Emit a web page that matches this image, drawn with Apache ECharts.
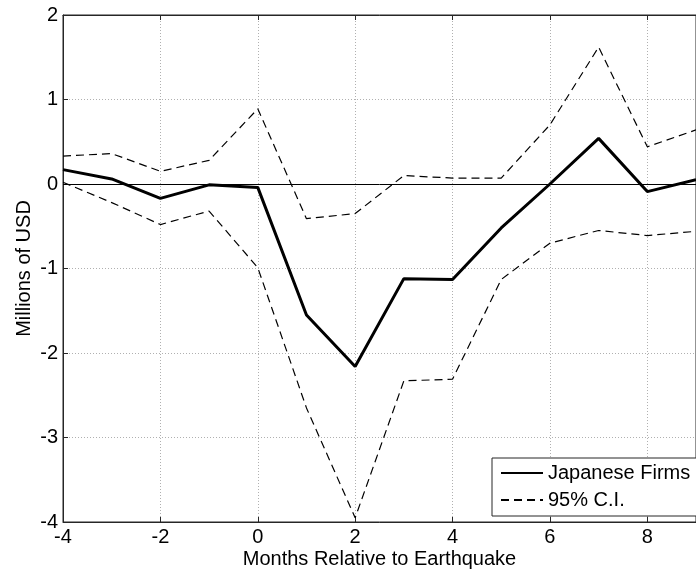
<!DOCTYPE html>
<html>
<head>
<meta charset="utf-8">
<script src="https://cdn.jsdelivr.net/npm/echarts@6/dist/echarts.min.js"></script>
<style>
  html, body { margin: 0; padding: 0; background: #fff; }
  #chart { width: 696px; height: 575px; }
</style>
</head>
<body>
<div id="chart"></div>
<script>
// months relative to the earthquake
const months = [-4, -3, -2, -1, 0, 1, 2, 3, 4, 5, 6, 7, 8, 9]
// point estimate, millions of USD
const firms = [0.17, 0.06, -0.17, -0.01, -0.04, -1.55, -2.16, -1.12, -1.13, -0.52, 0.0, 0.54, -0.09, 0.05]
// 95% confidence band
const upperCI = [0.33, 0.36, 0.15, 0.28, 0.89, -0.41, -0.35, 0.10, 0.07, 0.07, 0.70, 1.62, 0.44, 0.64]
const lowerCI = [0.02, -0.22, -0.48, -0.32, -0.99, -2.65, -3.95, -2.33, -2.31, -1.13, -0.70, -0.55, -0.61, -0.56]

const xTicks = [-4, -2, 0, 2, 4, 6, 8]
const yTicks = [-4, -3, -2, -1, 0, 1, 2]

const pairs = (ys) => months.map((m, i) => [m, ys[i]])

const FONT = '"Liberation Sans", Arial, sans-serif'
const AXIS = '#262626'

const chart = echarts.init(document.getElementById('chart'))

const option = {
  animation: false,
  backgroundColor: '#fff',
  textStyle: { fontFamily: FONT },
  grid: {
    left: 63,
    top: 15,
    width: 643,
    height: 507,
    show: true,
    borderColor: AXIS,
    borderWidth: 1,
    backgroundColor: 'transparent'
  },
  legend: {
    data: ['Japanese Firms', '95% C.I.'],
    orient: 'vertical',
    left: 492,
    top: 458,
    padding: [5, 8, 6, 8],
    itemGap: 7,
    itemWidth: 42,
    itemHeight: 14,
    backgroundColor: '#fff',
    borderColor: AXIS,
    borderWidth: 1,
    borderRadius: 0,
    // hide the marker dot, keep only the line sample
    itemStyle: { opacity: 0 },
    lineStyle: { opacity: 1 },
    textStyle: { fontFamily: FONT, fontSize: 20, color: '#000' }
  },
  xAxis: [
    {
      type: 'value',
      min: xTicks[0],
      max: 9,
      interval: 2,
      name: 'Months Relative to Earthquake',
      nameLocation: 'middle',
      nameGap: 27,
      nameMoveOverlap: false,
      nameTextStyle: { fontFamily: FONT, fontSize: 20, color: '#000' },
      axisLine: { onZero: false, lineStyle: { color: AXIS, width: 1 } },
      axisTick: { inside: true, length: 5, lineStyle: { color: AXIS } },
      axisLabel: {
        fontFamily: FONT, fontSize: 20, color: '#000', margin: 5,
        showMaxLabel: false
      },
      splitLine: { show: true, lineStyle: { type: [1, 2], color: '#b0b0b0', width: 1 } }
    },
    {
      type: 'value',
      position: 'top',
      min: xTicks[0],
      max: 9,
      interval: 2,
      axisLine: { onZero: false, lineStyle: { color: AXIS, width: 1 } },
      axisTick: { inside: true, length: 5, lineStyle: { color: AXIS } },
      axisLabel: { show: false },
      splitLine: { show: false }
    }
  ],
  yAxis: {
    type: 'value',
    min: yTicks[0],
    max: yTicks[yTicks.length - 1],
    interval: 1,
    name: 'Millions of USD',
    nameLocation: 'middle',
    nameGap: 29,
    nameMoveOverlap: false,
    nameTextStyle: { fontFamily: FONT, fontSize: 20, color: '#000' },
    axisLine: { show: true, onZero: false, lineStyle: { color: AXIS, width: 1 } },
    axisTick: { show: true, inside: true, length: 5, lineStyle: { color: AXIS } },
    axisLabel: { fontFamily: FONT, fontSize: 20, color: '#000', margin: 5 },
    splitLine: { show: true, lineStyle: { type: [1, 2], color: '#b0b0b0', width: 1 } }
  },
  series: [
    {
      name: 'Japanese Firms',
      type: 'line',
      data: pairs(firms),
      symbol: 'none',
      lineStyle: { color: '#000', width: 3 },
      itemStyle: { color: '#000' },
      z: 4,
      markLine: {
        silent: true,
        symbol: 'none',
        label: { show: false },
        lineStyle: { color: '#000', width: 1, type: 'solid' },
        data: [{ yAxis: 0 }]
      }
    },
    {
      name: '95% C.I.',
      type: 'line',
      data: pairs(upperCI),
      symbol: 'none',
      lineStyle: { color: '#000', width: 1.2, type: [8, 5] },
      itemStyle: { color: '#000' },
      z: 3
    },
    {
      name: '95% C.I.',
      type: 'line',
      data: pairs(lowerCI),
      symbol: 'none',
      lineStyle: { color: '#000', width: 1.2, type: [8, 5] },
      itemStyle: { color: '#000' },
      z: 3
    }
  ]
}

chart.setOption(option)
</script>
</body>
</html>
